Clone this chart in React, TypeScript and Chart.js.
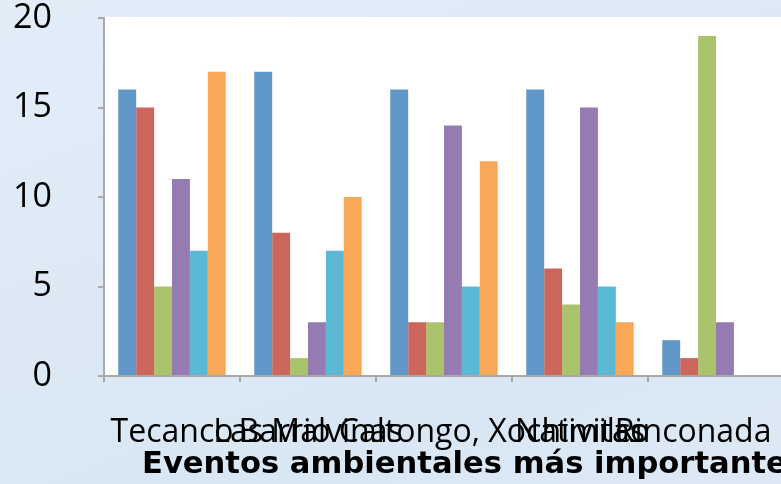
import { useEffect, useRef } from "react";
import { Chart, registerables } from "chart.js";

Chart.register(...registerables);

// Communities on the category axis
const comunidades = [
  "Tecanco",
  "Las Malvinas",
  "Barrio Caltongo, Xochimilco",
  "Nativitas",
  "Rinconada de",
];

// Number of mentions per event type in each community
const eventoA = [16, 17, 16, 16, 2];
const eventoB = [15, 8, 3, 6, 1];
const eventoC = [5, 1, 3, 4, 19];
const eventoD = [11, 3, 14, 15, 3];
const eventoE = [7, 7, 5, 5, 0];
const eventoF = [17, 10, 12, 3, 0];

const yTicks = [0, 5, 10, 15, 20];

const tituloEje = "Eventos ambientales más importantes";

const seriesColors = ["#6096c8", "#cc665d", "#abc46c", "#957bb1", "#5cb9d3", "#f9a85a"];

const LABEL_FONT = "Open Sans";
const TITLE_FONT = "bold 30.6px 'DejaVu Sans'";

const plotBackground = {
  id: "plotBackground",
  beforeDraw(chart: any) {
    const { ctx, chartArea: a } = chart;
    ctx.save();
    ctx.fillStyle = "#ffffff";
    ctx.fillRect(a.left, a.top - 1, a.right - a.left, a.bottom - a.top + 1);
    ctx.restore();
  },
};

const axisTitle = {
  id: "axisTitle",
  afterDraw(chart: any) {
    const { ctx, chartArea: a } = chart;
    ctx.save();
    ctx.font = TITLE_FONT;
    ctx.fillStyle = "#000000";
    ctx.textAlign = "left";
    ctx.textBaseline = "alphabetic";
    ctx.fillText(tituloEje, a.left + 38, chart.height - 11);
    ctx.restore();
  },
};

export default function App() {
  const canvasRef = useRef<HTMLCanvasElement | null>(null);

  useEffect(() => {
    const canvas = canvasRef.current;
    if (!canvas) return;
    let chart: Chart | null = null;
    let cancelled = false;

    const build = () => {
      if (cancelled) return;
      const series = [eventoA, eventoB, eventoC, eventoD, eventoE, eventoF];
      chart = new Chart(canvas, {
        type: "bar",
        data: {
          labels: comunidades,
          datasets: series.map((values, i) => ({
            label: `Evento ${i + 1}`,
            data: values,
            backgroundColor: seriesColors[i],
            borderWidth: 0,
            barPercentage: 1,
            categoryPercentage: 0.79,
          })),
        },
        options: {
          responsive: false,
          animation: false,
          devicePixelRatio: 1,
          layout: { padding: { top: 18, right: 116, bottom: 0, left: 0 } },
          plugins: {
            legend: { display: false },
            tooltip: { enabled: false },
            title: { display: false },
          },
          scales: {
            x: {
              grid: {
                display: true,
                drawOnChartArea: false,
                drawTicks: true,
                tickLength: 6,
                color: "#a9a9a9",
                lineWidth: 2,
                offset: true,
              },
              border: { display: true, color: "#a9a9a9", width: 2 },
              ticks: {
                autoSkip: false,
                maxRotation: 0,
                minRotation: 0,
                color: "#000000",
                padding: 35,
                font: { family: LABEL_FONT, size: 32, lineHeight: 1 },
              },
              afterFit(scale: any) {
                scale.height = 108;
                scale.paddingLeft = 0;
                scale.paddingRight = 0;
              },
            },
            y: {
              min: 0,
              max: 20,
              afterBuildTicks(scale: any) {
                scale.ticks = yTicks.map((v) => ({ value: v }));
              },
              grid: {
                display: true,
                drawOnChartArea: false,
                drawTicks: true,
                tickLength: 6,
                color: "#a9a9a9",
                lineWidth: 2,
              },
              border: { display: true, color: "#a9a9a9", width: 2 },
              ticks: {
                color: "#000000",
                padding: 46,
                font: { family: LABEL_FONT, size: 34, lineHeight: 1 },
              },
              afterFit(scale: any) {
                scale.width = 104;
                scale.paddingTop = 0;
                scale.paddingBottom = 0;
              },
            },
          },
        },
        plugins: [plotBackground, axisTitle],
      });
    };

    Promise.all([
      document.fonts.load(`32px "${LABEL_FONT}"`),
      document.fonts.load(TITLE_FONT),
    ])
      .catch(() => undefined)
      .then(build);

    return () => {
      cancelled = true;
      if (chart) chart.destroy();
    };
  }, []);

  return (
    <div
      style={{
        position: "fixed",
        left: 0,
        top: 0,
        width: 781,
        height: 484,
        overflow: "hidden",
        background:
          "linear-gradient(160deg, #e2edf8 0%, #dce9f5 45%, #d9e7f4 75%, #dde9f5 100%)",
      }}
    >
      <canvas ref={canvasRef} width={900} height={484} style={{ display: "block" }} />
    </div>
  );
}
